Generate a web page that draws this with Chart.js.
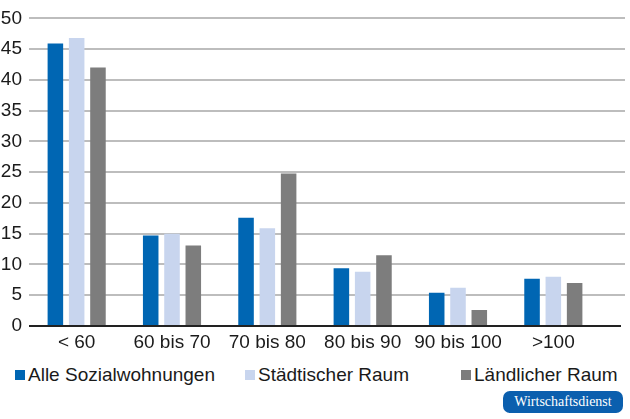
<!DOCTYPE html>
<html>
<head>
<meta charset="utf-8">
<script src="https://cdn.jsdelivr.net/npm/chart.js@4/dist/chart.umd.min.js"></script>
<style>
  body { margin: 0; background: #fff; }
  #wrap { position: relative; width: 630px; height: 419px; font-family: "Liberation Sans", Arial, sans-serif; }
  #box { position: absolute; left: 0; top: 0; width: 630px; height: 360px; }
  .leg { position: absolute; top: 366px; font-size: 19px; color: #1a1a1a; white-space: nowrap; line-height: 18px; }
  .leg span { display: inline-block; width: 10px; height: 10px; margin-right: 3px; vertical-align: 1px; }
  #badge { position: absolute; left: 503px; top: 391px; width: 120px; height: 22px; background: #0b5fae;
    border-radius: 7px; color: #fff; font: 14px "Liberation Serif", serif; text-align: center; line-height: 22px; }
</style>
</head>
<body>
<div id="wrap">
  <div id="box"><canvas id="c"></canvas></div>
  <div id="legend"></div>
  <div id="badge">Wirtschaftsdienst</div>
</div>
<script>
// Wohnungsgröße in m² und Anteile in %
const categories = ["< 60", "60 bis 70", "70 bis 80", "80 bis 90", "90 bis 100", ">100"];
const alleSozialwohnungen = [45.9, 14.7, 17.6, 9.4, 5.4, 7.7];
const staedtischerRaum = [46.8, 15.0, 15.9, 8.8, 6.2, 8.0];
const laendlicherRaum = [42.0, 13.1, 24.8, 11.5, 2.6, 7.0];
const yTicks = [0, 5, 10, 15, 20, 25, 30, 35, 40, 45, 50];

const seriesLabels = ["Alle Sozialwohnungen", "Städtischer Raum", "Ländlicher Raum"];
const colors = ["#0066b3", "#c8d5ee", "#7d7d7d"];
const legendLeft = [15, 245, 461];

const gridColor = (v) => v === 0 ? "#222222" : "#bdbdbd";

// gridlines run a bit further right than the last category
const extendGrid = {
  id: "extendGrid",
  afterDraw(chart) {
    const ctx = chart.ctx, a = chart.chartArea, y = chart.scales.y;
    ctx.save();
    y.ticks.forEach(t => {
      const py = Math.round(y.getPixelForValue(t.value));
      ctx.strokeStyle = gridColor(t.value);
      ctx.lineWidth = 2;
      ctx.beginPath();
      ctx.moveTo(a.right, py);
      ctx.lineTo(t.value === 0 ? 621 : 625, py);
      ctx.stroke();
    });
    ctx.restore();
  }
};

const chart = new Chart(document.getElementById("c"), {
  type: "bar",
  data: {
    labels: categories,
    datasets: [
      { label: seriesLabels[0], data: alleSozialwohnungen, backgroundColor: colors[0] },
      { label: seriesLabels[1], data: staedtischerRaum, backgroundColor: colors[1] },
      { label: seriesLabels[2], data: laendlicherRaum, backgroundColor: colors[2] }
    ]
  },
  options: {
    responsive: true,
    maintainAspectRatio: false,
    animation: false,
    categoryPercentage: 0.67,
    barPercentage: 0.73,
    layout: { padding: { top: 14, right: 29, bottom: 0, left: 0 } },
    plugins: { legend: { display: false }, tooltip: { enabled: false } },
    scales: {
      x: {
        grid: { display: false, drawTicks: false },
        border: { display: false },
        ticks: { color: "#1a1a1a", font: { family: "Liberation Sans", size: 19 }, padding: 5, maxRotation: 0 },
        afterFit(s) { s.height = 34; }
      },
      y: {
        min: 0,
        max: 50,
        afterBuildTicks(s) { s.ticks = yTicks.map(v => ({ value: v })); },
        grid: {
          drawTicks: false,
          color: (c) => gridColor(c.tick.value),
          lineWidth: 2
        },
        border: { display: false },
        ticks: { color: "#1a1a1a", font: { family: "Liberation Sans", size: 19 }, padding: 7 },
        afterFit(s) { s.width = 29; }
      }
    }
  },
  plugins: [extendGrid]
});

// legend built from the datasets
const leg = document.getElementById("legend");
chart.data.datasets.forEach((ds, i) => {
  const d = document.createElement("div");
  d.className = "leg";
  d.style.left = legendLeft[i] + "px";
  d.innerHTML = '<span style="background:' + ds.backgroundColor + '"></span>' + ds.label;
  leg.appendChild(d);
});
</script>
</body>
</html>
